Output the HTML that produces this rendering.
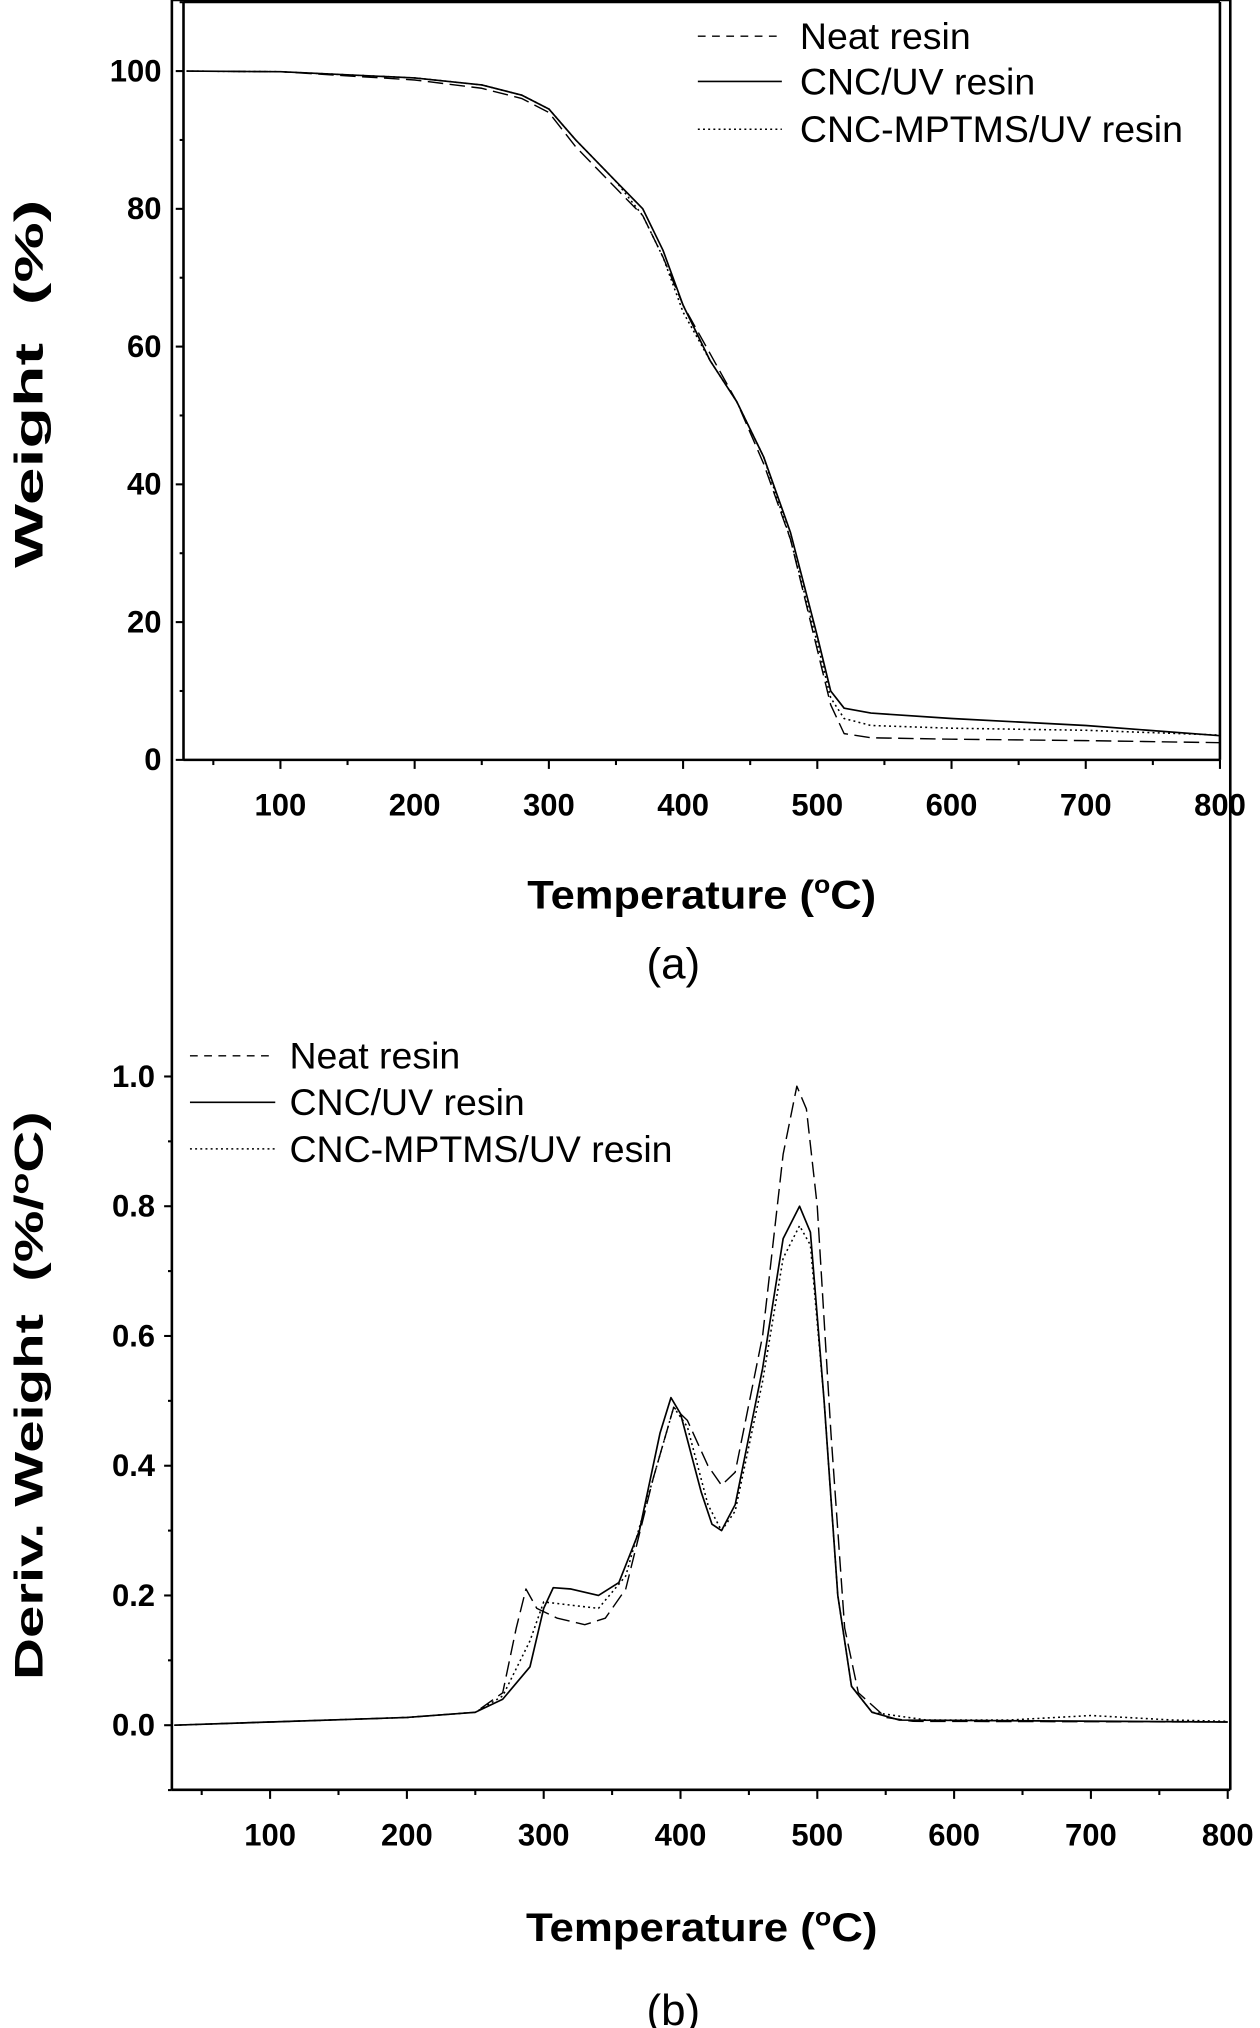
<!DOCTYPE html>
<html><head><meta charset="utf-8"><style>
html,body{margin:0;padding:0;background:#fff}
svg{display:block}
text{font-family:"Liberation Sans",Arial,sans-serif;fill:#000}
.t{font-weight:bold;font-size:24px}
.l{font-size:29px}
.ax{font-weight:bold;font-size:31px}
</style></head><body>
<svg id="s" width="1260" height="2028" viewBox="0 0 975 1569.3" preserveAspectRatio="none" xmlns="http://www.w3.org/2000/svg">
<g id="g"></g>
</svg>
<script>
var g=document.getElementById('g'),h='';
function L(x1,y1,x2,y2,w,da){h+='<line x1="'+x1+'" y1="'+y1+'" x2="'+x2+'" y2="'+y2+'" stroke="#000" stroke-width="'+(w||1.6)+'"'+(da?' stroke-dasharray="'+da+'"':'')+'/>';}
function T(x,y,s,c,a,extra){h+='<text x="'+x+'" y="'+y+'" class="'+c+'" text-anchor="'+(a||'start')+'" '+(extra||'')+'>'+s+'</text>';}
function P(pts,fx,fy,dash,w){var d='';for(var i=0;i<pts.length;i+=2){d+=(i?'L':'M')+fx(pts[i]).toFixed(1)+' '+fy(pts[i+1]).toFixed(1);}
h+='<path d="'+d+'" fill="none" stroke="#000" stroke-width="'+(w||1.3)+'" '+(dash?'stroke-dasharray="'+dash+'"':'')+' stroke-linejoin="round"/>';}
// ---- top plot
var ax=x=>217+(x-100)*1.0386, ay=y=>588-y*5.33;
L(142,1.5,944,1.5,2);L(142,1.5,142,588,2);L(142,588,944,588,2);L(944,1.5,944,588,2);
for(var v=0;v<=100;v+=20){L(136,ay(v),142,ay(v));T(125,ay(v)+8,v,'t','end');}
for(var v=10;v<=110;v+=20){L(139,ay(v),142,ay(v));}
for(var t=50;t<=800;t+=50){var big=t%100==0;L(ax(t),588,ax(t),588+(big?7:4));if(big)T(ax(t),631,t,'t','middle');}
T(543,703,'Temperature (<tspan dy="-12" font-size="19">o</tspan><tspan dy="12">C)</tspan>','ax','middle','textLength="270" lengthAdjust="spacingAndGlyphs"');
T(0,0,'Weight&#160;&#160;(%)','ax','middle','transform="translate(33,297) rotate(-90)" textLength="285" lengthAdjust="spacingAndGlyphs"');
T(521,757,'(a)','l','middle','style="font-size:34px"');
var s1=[30,100,100,99.9,200,99,250,98,280,96.5,300,94.5,320,90,350,84,370,80,385,74,400,66,420,58,440,52,460,44,480,33,500,18,510,10,520,7.5,540,6.8,600,6,700,5,800,3.5];
var n1=[30,100,100,99.9,200,98.7,250,97.5,280,96,300,94,320,89,350,83,370,79,385,73,400,66,420,59,440,52,460,43,480,32,500,16,510,8,520,3.8,540,3.2,600,3,700,2.8,800,2.5];
var d1=[30,100,100,99.9,200,99,250,98,280,96.5,300,94.5,320,90,350,84,370,79,385,73,400,65,420,58,440,52,460,44,480,32,500,17,510,9,520,6,540,5,600,4.6,700,4.3,800,3.6];
P(s1,ax,ay);P(n1,ax,ay,'12 5',1.1);P(d1,ax,ay,'1.5 2.5',1.2);
L(540,28,605,28,1.1,'6 5');L(540,63,605,63,1.3);L(540,100,605,100,1.2,'1.5 2.5');
T(619,38,'Neat resin','l');T(619,73,'CNC/UV resin','l');T(619,110,'CNC-MPTMS/UV resin','l');
// ---- bottom plot
var bx=x=>209+(x-100)*1.0586, by=y=>1335-y*502;
var top=788.5;
L(133,top,952,top,2);L(133,top,133,1385,2);L(133,1385,952,1385,2);L(952,top,952,1385,2);
for(var k=0;k<=5;k++){var v=k*0.2;L(127,by(v),133,by(v));T(120,by(v)+8,v.toFixed(1),'t','end');}
for(var k=-1;k<=10;k+=2){L(130,by(k*0.1),133,by(k*0.1));}
for(var t=50;t<=800;t+=50){var big=t%100==0;L(bx(t),1385,bx(t),1385+(big?7:4));if(big)T(bx(t),1428,t,'t','middle');}
T(543,1502,'Temperature (<tspan dy="-12" font-size="19">o</tspan><tspan dy="12">C)</tspan>','ax','middle','textLength="272" lengthAdjust="spacingAndGlyphs"');
T(0,0,'Deriv. Weight&#160;&#160;(%/<tspan dy="-11" font-size="19">o</tspan><tspan dy="11">C)</tspan>','ax','middle','transform="translate(33,1080) rotate(-90)" textLength="440" lengthAdjust="spacingAndGlyphs"');
T(521,1567,'(b)','l','middle','style="font-size:34px"');
var s2=[30,0,100,0.005,200,0.012,250,0.02,270,0.04,290,0.09,300,0.18,307,0.212,320,0.21,340,0.2,355,0.22,370,0.3,385,0.45,393,0.505,400,0.48,415,0.36,423,0.31,430,0.3,440,0.34,460,0.55,475,0.75,487,0.80,495,0.76,505,0.5,515,0.2,525,0.06,540,0.02,560,0.008,800,0.005];
var n2=[30,0,100,0.005,200,0.012,250,0.02,270,0.05,280,0.15,287,0.21,295,0.18,310,0.165,330,0.155,345,0.165,360,0.21,380,0.38,395,0.49,405,0.47,420,0.40,430,0.37,440,0.39,460,0.6,475,0.88,485,0.985,492,0.95,500,0.8,510,0.45,520,0.15,530,0.05,550,0.012,570,0.006,800,0.005];
var d2=[30,0,100,0.005,200,0.012,250,0.02,270,0.045,290,0.13,300,0.19,320,0.185,340,0.18,360,0.23,380,0.38,395,0.49,405,0.46,420,0.34,430,0.3,440,0.33,460,0.53,475,0.72,487,0.77,495,0.74,505,0.5,515,0.2,525,0.06,540,0.02,580,0.008,640,0.008,700,0.015,760,0.008,800,0.006];
P(s2,bx,by);P(n2,bx,by,'12 5',1.1);P(d2,bx,by,'1.5 2.5',1.2);
L(147,817,213,817,1.1,'6 5');L(147,853,213,853,1.3);L(147,889,213,889,1.2,'1.5 2.5');
T(224,827,'Neat resin','l');T(224,863,'CNC/UV resin','l');T(224,899,'CNC-MPTMS/UV resin','l');
g.innerHTML=h;
</script>
</body></html>
